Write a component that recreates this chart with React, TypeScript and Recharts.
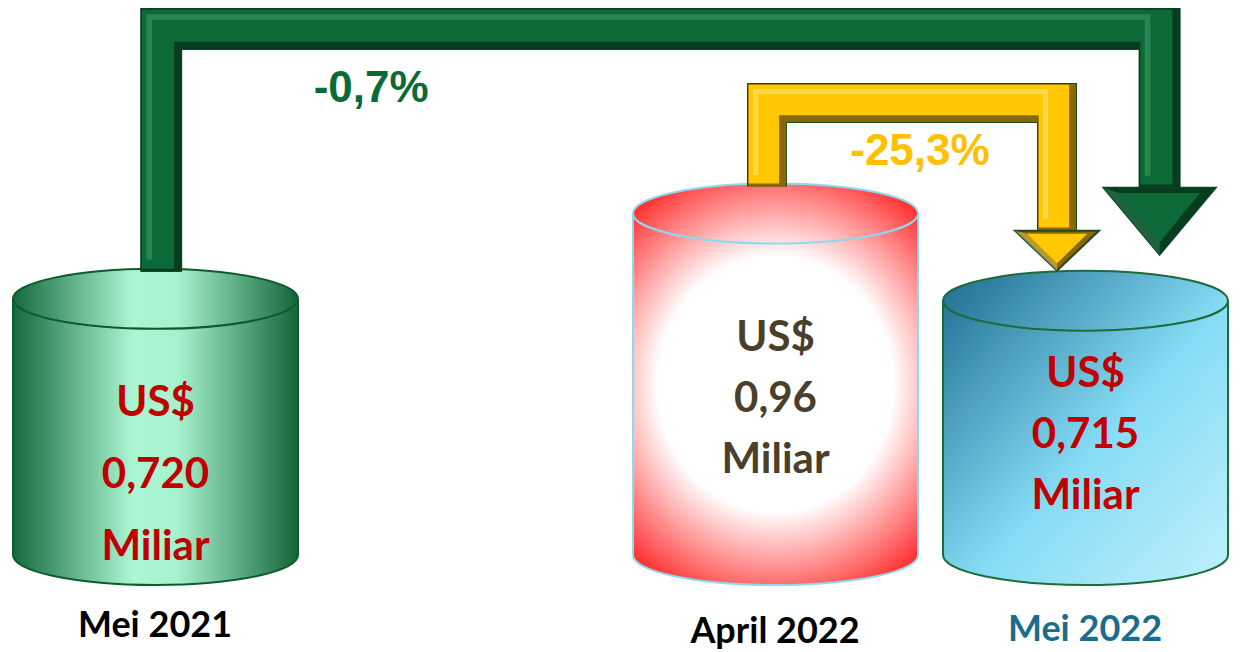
import { BarChart, Bar, XAxis, YAxis } from "recharts"

// periods on the axis; the blank one only opens the gap after Mei 2021
const periods = ["Mei 2021", "", "April 2022", "Mei 2022"]
const values: (number | null)[] = [0.72, null, 0.96, 0.715]
const valueLabels = ["0,720", "", "0,96", "0,715"]
const unitTop = "US$"
const unitBottom = "Miliar"

// change arrows: from -> to, with their labels
const changeFrom = ["Mei 2021", "April 2022"]
const changeTo = ["Mei 2022", "Mei 2022"]
const changeLabels = ["-0,7%", "-25,3%"]

const data = periods.map((name, i) => ({ name, value: values[i], label: valueLabels[i] }))

const W = 1240
const H = 652
const FONT = "Lato, 'Open Sans', sans-serif"

const cylStyle: Record<string, { fill: string; stroke: string; text: string; gap: number; shift: number }> = {
  "Mei 2021": { fill: "gradGreen", stroke: "#0d5c30", text: "#c00000", gap: 72, shift: 46 },
  "April 2022": { fill: "gradRed", stroke: "#8fd8f0", text: "#4a3f2a", gap: 61, shift: 13 },
  "Mei 2022": { fill: "gradBlue", stroke: "#1e6b3a", text: "#c00000", gap: 61, shift: 5 },
}

const tickStyle: Record<string, { color: string; dy: number }> = {
  "Mei 2021": { color: "#000000", dy: 74 },
  "April 2022": { color: "#000000", dy: 80 },
  "Mei 2022": { color: "#1b6d8c", dy: 78 },
}

const arrowStyle = [
  { t: 40, bar: 29, headHalf: 56, headLen: 67, tipGap: 16, tipShift: 0.26, startShift: 0.02, labelDx: 210, labelDy: 53, labelColor: "#0b6b38",
    c: { edge: "#0a4323", dark: "#063d1e", main: "#0c6a37", light: "#3f9c66" } },
  { t: 38, bar: 103, headHalf: 42, headLen: 40, tipGap: 0, tipShift: -0.1, startShift: -0.03, labelDx: 168, labelDy: 43, labelColor: "#ffc000",
    c: { edge: "#1f4a2a", dark: "#8a6700", main: "#ffc800", light: "#ffe680" } },
]

type Spot = { cx: number; top: number; ry: number; w: number }
const spots: Record<string, Spot> = {}

function BentArrow({ x0, y0, x1, yTip, s }: { x0: number; y0: number; x1: number; yTip: number; s: (typeof arrowStyle)[number] }) {
  const { t, bar, headHalf, headLen, c } = s
  const base = yTip - headLen
  const pts = `${x0},${y0} ${x0},${bar} ${x1},${bar} ${x1},${base}`
  const m = t * 0.08
  const h = t * 0.3
  return (
    <g>
      <polyline points={pts} fill="none" stroke={c.edge} strokeWidth={t + 2} strokeLinejoin="miter" />
      <polyline points={pts} fill="none" stroke={c.dark} strokeWidth={t} strokeLinejoin="miter" />
      <polyline points={pts} fill="none" stroke={c.main} strokeWidth={t * 0.8} strokeLinejoin="miter" transform={`translate(${-m},${-m})`} />
      <polyline points={pts} fill="none" stroke={c.light} strokeWidth={t * 0.14} strokeLinejoin="miter" opacity={0.55} transform={`translate(${-h},${-h})`} />
      <polygon points={`${x1 - headHalf},${base} ${x1 + headHalf},${base} ${x1},${yTip}`} fill={c.dark} stroke={c.edge} strokeWidth={2} strokeLinejoin="miter" />
      <polygon points={`${x1 - headHalf * 0.72},${base + headLen * 0.08} ${x1 + headHalf * 0.72},${base + headLen * 0.08} ${x1},${yTip - headLen * 0.18}`} fill={c.main} />
      <polygon points={`${x1 - headHalf},${base} ${x1 - headHalf * 0.72},${base + headLen * 0.08} ${x1},${yTip - headLen * 0.18} ${x1},${yTip}`} fill={c.light} opacity={0.4} />
    </g>
  )
}

function Arrows() {
  return (
    <g>
      {changeFrom.map((from, i) => {
        const a = spots[from]
        const b = spots[changeTo[i]]
        if (!a || !b) return null
        const s = arrowStyle[i]
        const x0 = a.cx + a.w * s.startShift
        const x1 = b.cx + b.w * s.tipShift
        return (
          <g key={from}>
            <BentArrow x0={x0} y0={a.top - a.ry + 3} x1={x1} yTip={b.top - b.ry - s.tipGap} s={s} />
            <text
              x={i === 0 ? x0 + s.labelDx : (x0 + x1) / 2 + 8}
              y={s.bar + s.t / 2 + s.labelDy}
              textAnchor="middle"
              fill={s.labelColor}
              fontSize={44}
              fontWeight={700}
              fontFamily="'Liberation Sans', Arial, sans-serif"
            >
              {changeLabels[i]}
            </text>
          </g>
        )
      })}
    </g>
  )
}

function Cylinder(props: any) {
  const { x, y, width, height, payload } = props
  if (!payload || payload.value == null || !height) return <g />
  const name: string = payload.name
  const s = cylStyle[name]
  const rx = width / 2
  const ry = Math.round(width * 0.105)
  const top = y
  const bottom = y + height
  spots[name] = { cx: x + rx, top, ry, w: width }
  const body = `M${x},${top} A${rx},${ry} 0 0 1 ${x + width},${top} L${x + width},${bottom} A${rx},${ry} 0 0 1 ${x},${bottom} Z`
  const rim = `M${x},${top} A${rx},${ry} 0 0 0 ${x + width},${top}`
  const mid = (top + bottom) / 2 + s.shift
  const lines = [unitTop, payload.label, unitBottom]
  const last = periods[periods.length - 1]
  return (
    <g>
      <path d={body} fill={`url(#${s.fill})`} stroke={s.stroke} strokeWidth={2} />
      <path d={rim} fill="none" stroke={s.stroke} strokeWidth={2} />
      {lines.map((t, k) => (
        <text
          key={k}
          x={x + rx}
          y={mid + (k - 1) * s.gap + 15}
          textAnchor="middle"
          fill={s.text}
          fontSize={42}
          fontWeight={700}
          fontFamily={FONT}
        >
          {t}
        </text>
      ))}
      {name === last && <Arrows />}
    </g>
  )
}

function PeriodTick({ x, y, payload }: any) {
  const name: string = payload?.value
  if (!name) return <g />
  const s = tickStyle[name]
  return (
    <text x={x} y={y + s.dy} textAnchor="middle" fill={s.color} fontSize={36} fontWeight={700} fontFamily={FONT}>
      {name}
    </text>
  )
}

export default function App() {
  return (
    <div style={{ width: W, height: H, marginLeft: -8, marginTop: -8, background: "#fff" }}>
      <BarChart width={W} height={H} data={data} margin={{ top: 0, right: 0, left: 0, bottom: 0 }}>
        <defs>
          <linearGradient id="gradGreen" x1="0" y1="0" x2="1" y2="0">
            <stop offset="0%" stopColor="#146b3c" />
            <stop offset="42%" stopColor="#abf6d3" />
            <stop offset="58%" stopColor="#a6f2ce" />
            <stop offset="100%" stopColor="#136539" />
          </linearGradient>
          <radialGradient id="gradRed" cx="0.5" cy="0.5" r="0.75" gradientTransform="translate(0.5,0.5) scale(1,0.77) translate(-0.5,-0.5)">
            <stop offset="0%" stopColor="#ffffff" />
            <stop offset="55%" stopColor="#ffffff" />
            <stop offset="100%" stopColor="#ff2f2f" />
          </radialGradient>
          <linearGradient id="gradBlue" x1="0" y1="0" x2="1" y2="1">
            <stop offset="0%" stopColor="#1c6c8e" />
            <stop offset="55%" stopColor="#86dcf5" />
            <stop offset="100%" stopColor="#c0f0fb" />
          </linearGradient>
        </defs>
        <XAxis dataKey="name" axisLine={false} tickLine={false} height={97} tick={<PeriodTick />} interval={0} />
        <YAxis hide domain={[0, 1.56]} />
        <Bar dataKey="value" barSize={285} shape={<Cylinder />} isAnimationActive={false} />
      </BarChart>
    </div>
  )
}
